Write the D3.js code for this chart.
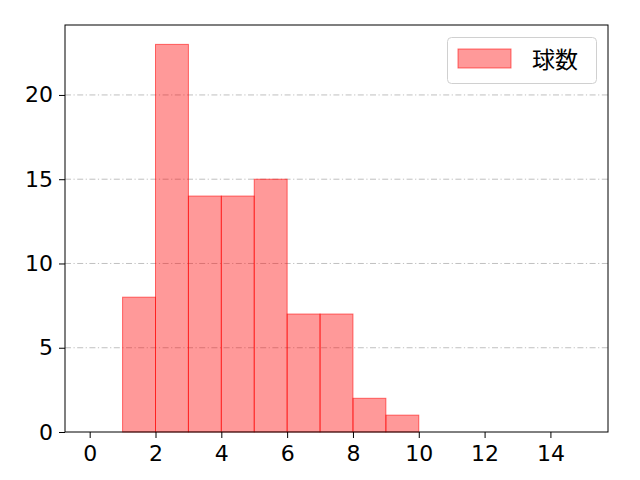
<!doctype html>
<html>
<head>
<meta charset="utf-8">
<script src="https://cdnjs.cloudflare.com/ajax/libs/d3/7.8.5/d3.min.js"></script>
<style>
  body { margin: 0; background: #fff; }
  text { font-family: "Noto Sans CJK JP", "DejaVu Sans", sans-serif; }
  .tick text { font-family: "DejaVu Sans", sans-serif; }
</style>
</head>
<body>
<svg id="chart" width="640" height="480"></svg>
<script>
    // histogram bins: [start, end) and counts
    binStarts = [1, 2, 3, 4, 5, 6, 7, 8, 9]
    binEnds = [2, 3, 4, 5, 6, 7, 8, 9, 10]
    counts = [8, 23, 14, 14, 15, 7, 7, 2, 1]
    xTicks = [0, 2, 4, 6, 8, 10, 12, 14]
    yTicks = [0, 5, 10, 15, 20]
    seriesName = "球数"

    var plotL = 65, plotR = 608, plotT = 25, plotB = 432;
    var svg = d3.select("#chart");

    var x = d3.scaleLinear().domain([-0.75, 15.75]).range([plotL, plotR]);
    var y = d3.scaleLinear().domain([0, 24.15]).range([plotB, plotT]);

    // grid lines (horizontal, dash-dot)
    svg.append("g")
        .selectAll("line")
        .data(yTicks.filter(d => d > 0))
        .enter()
        .append("line")
        .attr("x1", plotL)
        .attr("x2", plotR)
        .attr("y1", d => y(d))
        .attr("y2", d => y(d))
        .style("stroke", "#b0b0b0")
        .style("stroke-width", 0.8)
        .style("stroke-dasharray", "6,2.5,1.2,2.5");

    // bars
    svg.append("g")
        .selectAll("rect")
        .data(counts)
        .enter()
        .append("rect")
        .attr("x", (d, i) => x(binStarts[i]))
        .attr("width", (d, i) => x(binEnds[i]) - x(binStarts[i]))
        .attr("y", d => y(d))
        .attr("height", d => y(0) - y(d))
        .style("fill", "rgba(255,0,0,0.4)")
        .style("stroke", "rgba(255,0,0,0.55)")
        .style("stroke-width", 1);

    // axes
    var xAxis = svg.append("g")
        .attr("transform", "translate(0," + plotB + ")")
        .call(d3.axisBottom(x).tickValues(xTicks).tickSize(6).tickPadding(5).tickFormat(d3.format("d")));
    var yAxis = svg.append("g")
        .attr("transform", "translate(" + plotL + ",0)")
        .call(d3.axisLeft(y).tickValues(yTicks).tickSize(6).tickPadding(6).tickFormat(d3.format("d")));
    [xAxis, yAxis].forEach(function (a) {
        a.select(".domain").remove();
        a.selectAll("text").style("font-size", "22px").style("fill", "#000");
        a.selectAll("line").style("stroke", "#000");
    });
    xAxis.selectAll("text").attr("dy", "0.8em");

    // frame
    svg.append("rect")
        .attr("x", plotL)
        .attr("y", plotT)
        .attr("width", plotR - plotL)
        .attr("height", plotB - plotT)
        .style("fill", "none")
        .style("stroke", "#000")
        .style("stroke-width", 1);

    // legend
    var lg = svg.append("g");
    lg.append("rect")
        .attr("x", 447.5).attr("y", 37.5)
        .attr("width", 149).attr("height", 46)
        .attr("rx", 4)
        .style("fill", "rgba(255,255,255,0.8)")
        .style("stroke", "#d0d0d0");
    lg.append("rect")
        .attr("x", 458).attr("y", 49)
        .attr("width", 53).attr("height", 19)
        .style("fill", "rgba(255,0,0,0.4)")
        .style("stroke", "rgba(255,0,0,0.55)");
    lg.append("text")
        .attr("x", 532).attr("y", 68)
        .style("font-size", "23px")
        .text(seriesName);
</script>
</body>
</html>
